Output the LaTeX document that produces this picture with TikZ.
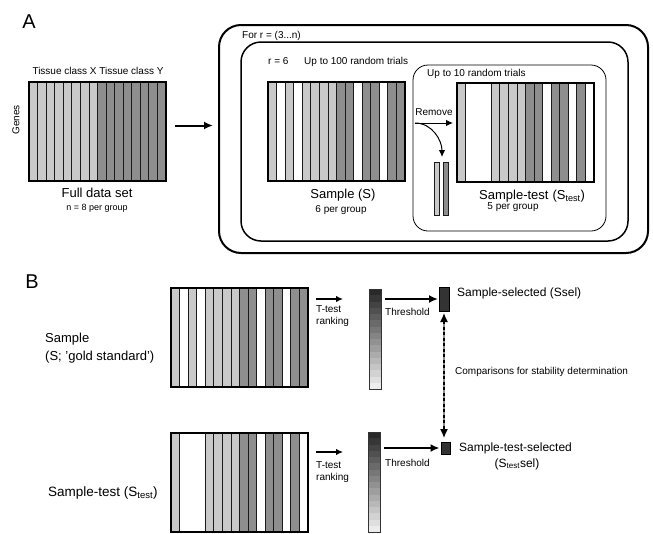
\documentclass[tikz,border=0pt]{standalone}
\usepackage{fontspec}
\setmainfont{Liberation Sans}
\usetikzlibrary{arrows.meta,calc}
\definecolor{lt}{HTML}{C9C9C9}
\definecolor{dk}{HTML}{8E8E8E}
\definecolor{selc}{HTML}{333333}
\definecolor{stripeline}{HTML}{1A1A1A}
\newcommand\mystripes[3]{%
  \foreach \s/\n/\c in {#3} {
    \filldraw[fill=\c, draw=stripeline, line width=0.8pt]
      ({#1+(\s-1)*8.5625},#2) rectangle ({#1+(\s-1+\n)*8.5625},{#2+99});
  }}
\newcommand\mygrad[2]{%
  \foreach \k in {0,...,15} {
    \pgfmathsetmacro\pc{84-5.1*\k}
    \fill[black!\pc] (#1,{#2+\k*6.25}) rectangle ({#1+12},{#2+(\k+1)*6.25});
  }}
\begin{document}
\begin{tikzpicture}[x=1pt,y=-1pt,
  matbox/.style={draw, line width=2.2pt, minimum width=137pt, minimum height=99pt, inner sep=0pt, outer sep=0pt},
  arr/.style={line width=1.3pt, -{Latex[length=7pt,width=6.5pt]}},
  bigarr/.style={line width=2pt, -{Latex[length=9pt,width=8pt]}},
  lbl/.style={font=\fontsize{10}{12}\selectfont, inner sep=0pt},
  big/.style={font=\fontsize{13}{18}\selectfont, inner sep=0pt},
  panel/.style={font=\fontsize{20}{22}\selectfont, inner sep=0pt},
  gradbox/.style={draw=black!80, line width=0.7pt, minimum width=12pt, minimum height=100pt, inner sep=0pt, outer sep=0pt},
  selbox/.style={fill=selc, draw=black, line width=0.5pt, inner sep=0pt, outer sep=0pt},
  roundbox/.style={draw, inner sep=0pt, outer sep=0pt}]
\useasboundingbox (0,0) rectangle (653,533);

% ---------------- Panel A ----------------
\node[panel] (A) at (29,22) {A};

% Full data set
\mystripes{29}{82}{1/1/lt,2/1/lt,3/1/lt,4/1/lt,5/1/lt,6/1/lt,7/1/lt,8/1/lt,9/1/dk,10/1/dk,11/1/dk,12/1/dk,13/1/dk,14/1/dk,15/1/dk,16/1/dk}
\node[matbox] (full) at (97.5,131.5) {};
\node[lbl, font=\fontsize{10}{12}\selectfont] (tissue) at (98,71) {Tissue class X Tissue class Y};
\node[lbl, rotate=90] (genes) at (16,120) {Genes};
\node[big] (fulllbl) at (97,193) {Full data set};
\node[lbl, font=\fontsize{9}{11}\selectfont] (nlbl) at (97,208) {n = 8 per group};

% Nested boxes
\node[roundbox, line width=2pt, rounded corners=22pt, minimum width=429pt, minimum height=228pt] (outer) at (433.5,139) {};
\node[roundbox, line width=1.5pt, rounded corners=20pt, minimum width=387pt, minimum height=199pt] (middle) at (434.5,141.5) {};
\node[roundbox, line width=0.8pt, rounded corners=15pt, minimum width=193pt, minimum height=166pt] (inner) at (509.5,148) {};
\node[lbl, anchor=base west] (forr) at (242,38) {For r = (3...n)};
\node[lbl, anchor=base west] (r6) at (268,64) {r = 6};
\node[lbl, anchor=base west] (up100) at (304,64) {Up to 100 random trials};
\node[lbl, anchor=base west] (up10) at (427,76) {Up to 10 random trials};

\draw[bigarr] ($(full.east)+(9,-6)$) -- ($(full.east -| outer.west)+(-6,-6)$);

% Sample (S)
\mystripes{268}{82}{1/1/lt,3/1/lt,5/1/lt,6/1/lt,7/1/lt,8/1/lt,9/1/dk,10/1/dk,12/1/dk,13/1/dk,15/1/dk,16/1/dk}
\node[matbox] (samp) at (336.5,131.5) {};
\node[big] (samplbl) at (343,195) {Sample (S)};
\node[lbl] (six) at (341,210) {6 per group};

% Sample-test
\mystripes{457}{83}{1/1/lt,5/1/lt,6/1/lt,7/1/lt,8/1/lt,9/1/dk,10/1/dk,12/1/dk,13/1/dk,15/1/dk}
\node[matbox] (stest) at (525.5,132.5) {};
\node[big, anchor=west] (stestlbl) at (479,196) {Sample-test\hspace{4pt}(S\textsubscript{test})};
\node[lbl] (five) at (513,207) {5 per group};

% Remove
\node[lbl] (remove) at (434,112) {Remove};
\coordinate (rm0) at (415,123);
\coordinate (rm1) at (453,123);
\coordinate (rm2) at (442,157);
\draw[arr, line width=1pt] (rm0) -- (rm1);
\draw[arr, line width=1pt] (rm0) to[out=0, in=90] (rm2);
\filldraw[fill=lt, draw=stripeline, line width=0.8pt] (434,162) rectangle (439,215);
\filldraw[fill=dk, draw=stripeline, line width=0.8pt] (443,162) rectangle (448,215);

% ---------------- Panel B ----------------
\node[panel] (B) at (32,282) {B};

% Sample (gold standard)
\mystripes{171}{288}{1/1/lt,3/1/lt,5/1/lt,6/1/lt,7/1/lt,8/1/lt,9/1/dk,10/1/dk,12/1/dk,13/1/dk,15/1/dk,16/1/dk}
\node[matbox] (sampB) at (239.5,337.5) {};
\node[big, anchor=west, align=left] (sampBlbl) at (45,348) {Sample\\(S; 'gold standard')};

\coordinate (tt1a) at (316,299);
\coordinate (tt1b) at (343,299);
\draw[arr] (tt1a) -- (tt1b);
\node[lbl, anchor=north west, align=left] (tt1lbl) at (316,305) {T-test\\ranking};

\mygrad{369}{289}
\node[gradbox] (grad1) at (375,339) {};
\node[selbox, minimum width=10pt, minimum height=24pt] (sel1) at (444,299) {};
\draw[bigarr] ([xshift=4pt]grad1.east |- sel1.west) -- ([xshift=-1pt]sel1.west);
\node[lbl, anchor=base west] (thr1) at (385,315) {Threshold};
\node[lbl, anchor=west, font=\fontsize{12}{14}\selectfont] (sel1lbl) at (457,293) {Sample-selected (Ssel)};
\node[lbl, anchor=west] (comp) at (455,372) {Comparisons for stability determination};

% Sample-test (B)
\mystripes{171}{433}{1/1/lt,5/1/lt,6/1/lt,7/1/lt,8/1/lt,9/1/dk,10/1/dk,12/1/dk,13/1/dk,15/1/dk}
\node[matbox] (stestB) at (239.5,482.5) {};
\node[big, anchor=west, font=\fontsize{13.5}{18}\selectfont] (stestBlbl) at (48,493) {Sample-test (S\textsubscript{test})};

\coordinate (tt2a) at (316,452);
\coordinate (tt2b) at (343,452);
\draw[arr] (tt2a) -- (tt2b);
\node[lbl, anchor=north west, align=left] (tt2lbl) at (316,461) {T-test\\ranking};

\mygrad{368}{432}
\node[gradbox] (grad2) at (374,482) {};
\node[selbox, minimum width=9pt, minimum height=12pt] (sel2) at (446,448) {};
\draw[bigarr] ([xshift=4pt]grad2.east |- sel2.west) -- ([xshift=-2pt]sel2.west);
\node[lbl, anchor=base west] (thr2) at (385,466) {Threshold};
\node[lbl, anchor=west, font=\fontsize{12}{14}\selectfont] (sel2lbl) at (459,448) {Sample-test-selected};
\node[lbl, font=\fontsize{12}{14}\selectfont] (sel2lbl2) at (517,464) {(S\textsubscript{test}sel)};

% Comparison arrow
\draw[black!45, line width=1.3pt, shorten >=6pt, shorten <=6pt] ([yshift=-2pt]sel1.south) -- ([yshift=4pt]sel1.south |- sel2.north);
\draw[line width=1.3pt, dash pattern=on 3pt off 2.5pt, {Latex[length=9pt,width=8pt]}-{Latex[length=9pt,width=8pt]}] ([yshift=-2pt]sel1.south) -- ([yshift=4pt]sel1.south |- sel2.north);
\end{tikzpicture}
\end{document}
